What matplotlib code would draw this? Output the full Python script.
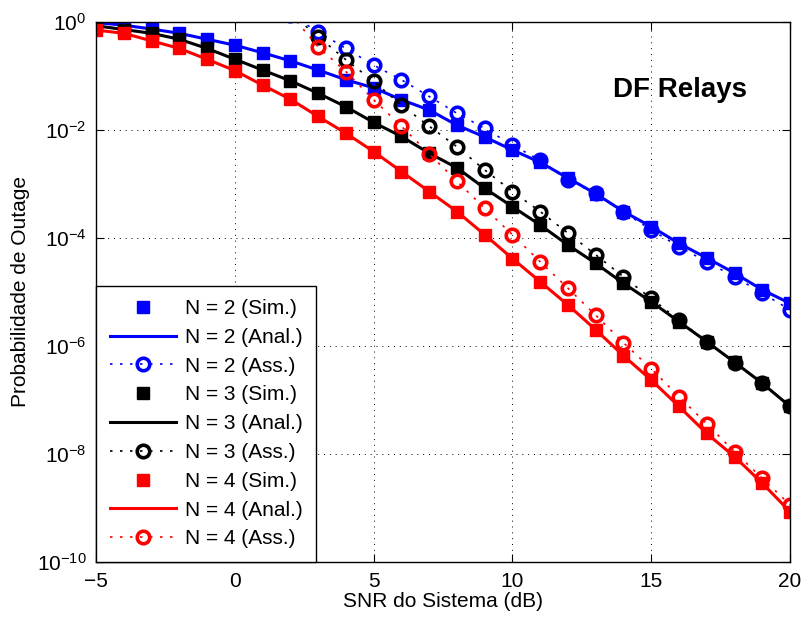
import numpy as np
import matplotlib
matplotlib.use('Agg')
import matplotlib.pyplot as plt
from matplotlib.ticker import FixedLocator

plt.rcParams['font.family'] = ['Liberation Sans', 'DejaVu Sans']

# SNR grid (dB)
snr_db = np.arange(-5, 21)
# asymptotic curves are drawn from 2 dB on (clipped at 10^0)
snr_asym = np.arange(2, 21)

# log10 of outage probability, simulation / analytical (they coincide)
log_out_n2 = [-0.01, -0.06, -0.13, -0.21, -0.32, -0.43, -0.57, -0.72, -0.89, -1.07,
              -1.22, -1.44, -1.63, -1.91, -2.13, -2.37, -2.60, -2.89, -3.18, -3.51,
              -3.79, -4.10, -4.37, -4.65, -4.96, -5.21]
log_out_n3 = [-0.07, -0.14, -0.21, -0.32, -0.49, -0.69, -0.89, -1.09, -1.32, -1.57,
              -1.86, -2.12, -2.43, -2.70, -3.08, -3.42, -3.76, -4.13, -4.47, -4.84,
              -5.18, -5.55, -5.92, -6.30, -6.69, -7.12]
log_out_n4 = [-0.15, -0.21, -0.35, -0.49, -0.69, -0.90, -1.17, -1.43, -1.75, -2.06,
              -2.40, -2.77, -3.14, -3.51, -3.94, -4.38, -4.81, -5.24, -5.70, -6.18,
              -6.63, -7.12, -7.62, -8.05, -8.54, -9.07]

# log10 of asymptotic outage, 2 dB .. 20 dB
log_asym_n2 = [0.13, -0.18, -0.49, -0.80, -1.07, -1.38, -1.69, -1.97, -2.28, -2.56,
               -2.93, -3.17, -3.52, -3.85, -4.16, -4.44, -4.72, -5.02, -5.33]
log_asym_n3 = [0.16, -0.27, -0.70, -1.10, -1.54, -1.93, -2.31, -2.74, -3.14, -3.51,
               -3.91, -4.31, -4.72, -5.12, -5.52, -5.92, -6.32, -6.69, -7.12]
log_asym_n4 = [0.15, -0.46, -0.92, -1.44, -1.93, -2.44, -2.95, -3.45, -3.94, -4.44,
               -4.93, -5.43, -5.94, -6.42, -6.94, -7.44, -7.96, -8.45, -8.94]

series = [
    (2, 'b', log_out_n2, log_asym_n2),
    (3, 'k', log_out_n3, log_asym_n3),
    (4, 'r', log_out_n4, log_asym_n4),
]

fig = plt.figure(figsize=(8.05, 6.19), dpi=100)
ax = fig.add_axes([0.1193, 0.0921, 0.8621, 0.8724])

for n, col, out, asym in series:
    out = 10.0 ** np.array(out)
    asym = 10.0 ** np.array(asym)
    ax.semilogy(snr_db, out, 's', color=col, markersize=9,
                label=f'N = {n} (Sim.)')
    ax.semilogy(snr_db, out, '-', color=col, linewidth=2.2,
                label=f'N = {n} (Anal.)')
    ax.semilogy(snr_asym, asym, linestyle=(0, (1.5, 4.5)), linewidth=1.2,
                marker='o', markersize=9, markerfacecolor='none',
                markeredgewidth=2.6, color=col, label=f'N = {n} (Ass.)')

ax.set_xlim(-5, 20)
ax.set_ylim(1e-10, 1)
ax.set_xticks([-5, 0, 5, 10, 15, 20])
ax.set_xticklabels(['\u22125', '0', '5', '10', '15', '20'])
ax.yaxis.set_major_locator(FixedLocator(10.0 ** np.arange(-10, 1, 2)))
ax.yaxis.set_minor_locator(FixedLocator([]))

ax.tick_params(direction='in', top=True, right=True, length=6, width=0.8,
               labelsize=15, pad=7)
ax.grid(True, color='k', linestyle=(0, (1, 5)), linewidth=0.7)
for s in ax.spines.values():
    s.set_linewidth(1.0)

ax.set_xlabel('SNR do Sistema (dB)', fontsize=15, labelpad=1)
ax.set_ylabel('Probabilidade de Outage', fontsize=15, labelpad=5)

ax.text(0.745, 0.861, 'DF Relays', transform=ax.transAxes,
        fontsize=20, fontweight='bold')

leg = ax.legend(loc='lower left', fontsize=15, borderaxespad=0,
                handlelength=3.2, handletextpad=0.4, labelspacing=0.47,
                numpoints=1, fancybox=False, framealpha=1,
                edgecolor='k', borderpad=0.65)
leg.get_frame().set_linewidth(1.0)

plt.savefig('out.png', dpi=100)
